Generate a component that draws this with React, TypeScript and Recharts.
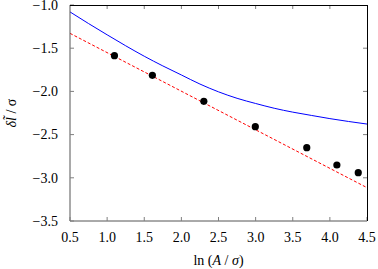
import React from 'react';
import { ComposedChart, Line, Scatter, XAxis, YAxis, ReferenceLine } from 'recharts';

const xTicks = [0.5, 1.0, 1.5, 2.0, 2.5, 3.0, 3.5, 4.0, 4.5];
const yTicks = [-3.5, -3.0, -2.5, -2.0, -1.5, -1.0];

const pointX = [1.0986, 1.6094, 2.3026, 2.9957, 3.6889, 4.0943, 4.382];
const pointY = [-1.587, -1.814, -2.115, -2.408, -2.651, -2.852, -2.941];

const curveX = [0.5, 0.75, 1.0, 1.25, 1.5, 1.75, 2.0, 2.25, 2.5, 2.75, 3.0, 3.25, 3.5, 3.75, 4.0, 4.25, 4.5];
const curveY = [-1.08, -1.215, -1.345, -1.472, -1.593, -1.705, -1.81, -1.915, -2.005, -2.08, -2.14, -2.195, -2.24, -2.278, -2.315, -2.348, -2.378];

const fitX = [0.5, 4.5];
const fitY = [-1.328, -3.114];

const points = pointX.map((x, i) => ({ x, y: pointY[i] }));
const curve = curveX.map((x, i) => ({ x, y: curveY[i] }));
const fit = fitX.map((x, i) => ({ x, y: fitY[i] }));

const FONT = "'Liberation Serif', 'Times New Roman', serif";
const TICK_GREY = '#7f7f7f';
const textStyle = { fontFamily: FONT, fontSize: 14 };

const W = 378;
const H = 269;
const M = { top: 5, right: 11, bottom: 0, left: 0 };
const Y_AXIS_W = 70;
const X_AXIS_H = 48;

const fmt = (v: number) => (v < 0 ? '\u2212' : '') + Math.abs(v).toFixed(1);

const BottomTick = (props: any) => {
  const { x, y, payload } = props;
  return (
    <g>
      <line x1={x} x2={x} y1={y} y2={y - 4} stroke={TICK_GREY} />
      <text x={x} y={y + 20.5} textAnchor="middle" fontFamily={FONT} fontSize={14} style={textStyle} fill="#000">
        {payload.value.toFixed(1)}
      </text>
    </g>
  );
};

const LeftTick = (props: any) => {
  const { x, y, payload } = props;
  return (
    <g>
      <line x1={x} x2={x + 4} y1={y} y2={y} stroke={TICK_GREY} />
      <text x={x - 12} y={y + 4.7} textAnchor="end" fontFamily={FONT} fontSize={14} style={textStyle} fill="#000">
        {fmt(payload.value)}
      </text>
    </g>
  );
};

const XTitle = (props: any) => {
  const vb = props.viewBox;
  const cx = vb.x + vb.width / 2;
  return (
    <text x={cx} y={265} textAnchor="middle" fontFamily={FONT} fontSize={14} style={textStyle} fill="#000">
      <tspan>ln (</tspan>
      <tspan fontStyle="italic">A</tspan>
      <tspan> / </tspan>
      <tspan fontStyle="italic">σ</tspan>
      <tspan>)</tspan>
    </text>
  );
};

const YTitle = (props: any) => {
  const vb = props.viewBox;
  const cy = vb.y + vb.height / 2;
  const cx = 16;
  return (
    <text
      x={cx}
      y={cy}
      textAnchor="middle"
      fontFamily={FONT}
      fontSize={14}
      style={textStyle}
      fill="#000"
      transform={`rotate(-90, ${cx}, ${cy})`}
    >
      <tspan fontStyle="italic">δ</tspan>
      <tspan fontStyle="italic">{'l\u0303'}</tspan>
      <tspan> / σ</tspan>
    </text>
  );
};

const TopTickShape = (p: any) => {
  const top = Math.min(p.y1, p.y2);
  return <line x1={p.x1} x2={p.x1} y1={top} y2={top + 4} stroke={TICK_GREY} />;
};

const RightTickShape = (p: any) => {
  const right = Math.max(p.x1, p.x2);
  return <line x1={right} x2={right - 4} y1={p.y1} y2={p.y1} stroke={TICK_GREY} />;
};

export default function App() {
  return (
    <div style={{ position: 'fixed', left: 0, top: 0, width: W, height: H, background: '#fff' }}>
      <ComposedChart width={W} height={H} margin={M}>
        <XAxis
          xAxisId="b"
          type="number"
          dataKey="x"
          domain={[0.5, 4.5]}
          ticks={xTicks}
          allowDataOverflow
          height={X_AXIS_H}
          tickSize={0}
          tickMargin={0}
          tickLine={false}
          tick={<BottomTick />}
          axisLine={{ stroke: '#555' }}
          interval={0}
          label={<XTitle />}
        />
        <YAxis
          yAxisId="l"
          type="number"
          dataKey="y"
          domain={[-3.5, -1.0]}
          ticks={yTicks}
          allowDataOverflow
          width={Y_AXIS_W}
          tickSize={0}
          tickMargin={0}
          tickLine={false}
          tick={<LeftTick />}
          axisLine={{ stroke: '#555' }}
          interval={0}
          label={<YTitle />}
        />
        {xTicks.slice(1, -1).map((t) => (
          <ReferenceLine key={'tx' + t} xAxisId="b" yAxisId="l" x={t} ifOverflow="visible" shape={TopTickShape} />
        ))}
        {yTicks.slice(1, -1).map((t) => (
          <ReferenceLine key={'ty' + t} xAxisId="b" yAxisId="l" y={t} ifOverflow="visible" shape={RightTickShape} />
        ))}
        <Line
          xAxisId="b"
          yAxisId="l"
          data={curve}
          dataKey="y"
          type="monotone"
          stroke="#0000ff"
          strokeWidth={1}
          dot={false}
          isAnimationActive={false}
        />
        <Line
          xAxisId="b"
          yAxisId="l"
          data={fit}
          dataKey="y"
          type="linear"
          stroke="#ff0000"
          strokeWidth={1}
          strokeDasharray="3 2"
          dot={false}
          isAnimationActive={false}
        />
        <Scatter
          xAxisId="b"
          yAxisId="l"
          data={points}
          dataKey="y"
          fill="#000"
          shape={(p: any) => <circle cx={p.cx} cy={p.cy} r={3.6} fill="#000" />}
          isAnimationActive={false}
        />
      </ComposedChart>
      <div
        style={{
          position: 'absolute',
          left: M.left + Y_AXIS_W,
          top: M.top - 0.5,
          width: W - M.right - M.left - Y_AXIS_W + 0.5,
          height: H - M.top - M.bottom - X_AXIS_H,
          boxSizing: 'border-box',
          borderTop: '1px solid #000',
          borderRight: '1px solid #000',
          pointerEvents: 'none',
        }}
      />
    </div>
  );
}
